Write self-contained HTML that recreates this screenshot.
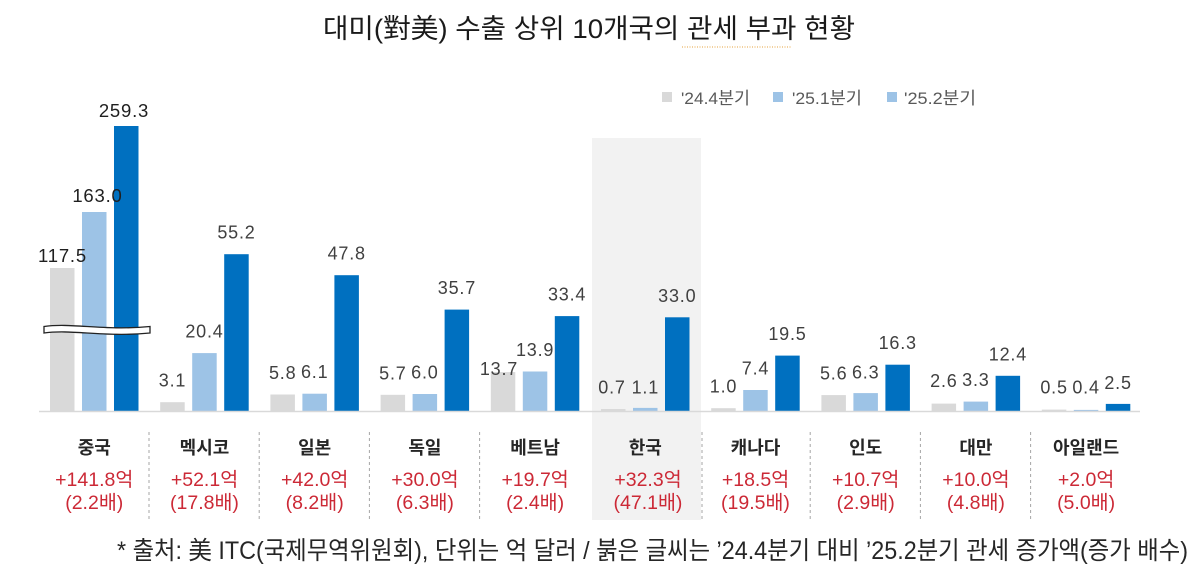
<!DOCTYPE html>
<html>
<head>
<meta charset="utf-8">
<style>
  html,body{margin:0;padding:0;background:#fff;}
  body{width:1200px;height:578px;overflow:hidden;}
  svg{display:block;}
  .v{font-family:"Liberation Sans","Noto Sans CJK KR",sans-serif;font-size:18px;fill:#404040;letter-spacing:0.8px;text-anchor:middle;}
  .vc{font-family:"Liberation Sans","Noto Sans CJK KR",sans-serif;font-size:18.5px;fill:#1f1f1f;letter-spacing:0.8px;text-anchor:middle;}
  .n{font-family:"Liberation Sans","Noto Sans CJK KR",sans-serif;font-size:18px;font-weight:bold;fill:#262626;text-anchor:middle;}
  .r{font-family:"Liberation Sans","Noto Sans CJK KR",sans-serif;font-size:19.5px;fill:#cc2936;text-anchor:middle;}
  .lg{font-family:"Liberation Sans","Noto Sans CJK KR",sans-serif;font-size:17px;fill:#595959;}
</style>
</head>
<body>
<svg width="1200" height="578" viewBox="0 0 1200 578" xmlns="http://www.w3.org/2000/svg">
  <rect x="0" y="0" width="1200" height="578" fill="#ffffff"/>
  <!-- Title -->
  <text x="323" y="38" textLength="532" lengthAdjust="spacingAndGlyphs" font-family="'Liberation Sans','Noto Sans CJK KR',sans-serif" font-size="27" fill="#1a1a1a">대미(對美) 수출 상위 10개국의 관세 부과 현황</text>
  <line x1="682" y1="47" x2="791" y2="47" stroke="#e6a23c" stroke-width="1" stroke-dasharray="1,1.5"/>

  <!-- Legend -->
  <rect x="662" y="92" width="10" height="10" fill="#d9d9d9"/>
  <text class="lg" x="681" y="104" textLength="69" lengthAdjust="spacingAndGlyphs">'24.4분기</text>
  <rect x="773" y="92" width="10" height="10" fill="#9dc3e6"/>
  <text class="lg" x="792" y="104" textLength="70" lengthAdjust="spacingAndGlyphs">'25.1분기</text>
  <rect x="887" y="92" width="10" height="10" fill="#9dc3e6"/>
  <text class="lg" x="904" y="104" textLength="72" lengthAdjust="spacingAndGlyphs">'25.2분기</text>

  <!-- Korea highlight band -->
  <rect x="592" y="138" width="109" height="382" fill="#f2f2f2"/>

  <!-- Separators -->
  <g stroke="#a6a6a6" stroke-width="1" stroke-dasharray="3,3">
    <line x1="149" y1="432" x2="149" y2="520"/>
    <line x1="259.2" y1="432" x2="259.2" y2="520"/>
    <line x1="369.4" y1="432" x2="369.4" y2="520"/>
    <line x1="479.6" y1="432" x2="479.6" y2="520"/>
    <line x1="702" y1="432" x2="702" y2="520"/>
    <line x1="810.2" y1="432" x2="810.2" y2="520"/>
    <line x1="920.4" y1="432" x2="920.4" y2="520"/>
    <line x1="1030.6" y1="432" x2="1030.6" y2="520"/>
  </g>

  <!-- Bars -->
  <g>
    <rect x="50" y="268" width="24.5" height="143" fill="#d9d9d9"/>
    <rect x="82" y="212" width="24.5" height="199" fill="#9dc3e6"/>
    <rect x="114" y="126" width="24.5" height="285" fill="#0070c0"/>
    <rect x="160.2" y="402.2" width="24.5" height="8.8" fill="#d9d9d9"/>
    <rect x="192.2" y="353.1" width="24.5" height="57.9" fill="#9dc3e6"/>
    <rect x="224.2" y="254.2" width="24.5" height="156.8" fill="#0070c0"/>
    <rect x="270.4" y="394.5" width="24.5" height="16.5" fill="#d9d9d9"/>
    <rect x="302.4" y="393.7" width="24.5" height="17.3" fill="#9dc3e6"/>
    <rect x="334.4" y="275.2" width="24.5" height="135.8" fill="#0070c0"/>
    <rect x="380.6" y="394.8" width="24.5" height="16.2" fill="#d9d9d9"/>
    <rect x="412.6" y="394" width="24.5" height="17" fill="#9dc3e6"/>
    <rect x="444.6" y="309.6" width="24.5" height="101.4" fill="#0070c0"/>
    <rect x="490.8" y="372.1" width="24.5" height="38.9" fill="#d9d9d9"/>
    <rect x="522.8" y="371.5" width="24.5" height="39.5" fill="#9dc3e6"/>
    <rect x="554.8" y="316.1" width="24.5" height="94.9" fill="#0070c0"/>
    <rect x="601" y="409" width="24.5" height="2" fill="#d9d9d9"/>
    <rect x="633" y="407.9" width="24.5" height="3.1" fill="#9dc3e6"/>
    <rect x="665" y="317.3" width="24.5" height="93.7" fill="#0070c0"/>
    <rect x="711.2" y="408.2" width="24.5" height="2.8" fill="#d9d9d9"/>
    <rect x="743.2" y="390" width="24.5" height="21" fill="#9dc3e6"/>
    <rect x="775.2" y="355.6" width="24.5" height="55.4" fill="#0070c0"/>
    <rect x="821.4" y="395.1" width="24.5" height="15.9" fill="#d9d9d9"/>
    <rect x="853.4" y="393.1" width="24.5" height="17.9" fill="#9dc3e6"/>
    <rect x="885.4" y="364.7" width="24.5" height="46.3" fill="#0070c0"/>
    <rect x="931.6" y="403.6" width="24.5" height="7.4" fill="#d9d9d9"/>
    <rect x="963.6" y="401.6" width="24.5" height="9.4" fill="#9dc3e6"/>
    <rect x="995.6" y="375.8" width="24.5" height="35.2" fill="#0070c0"/>
    <rect x="1041.8" y="409.6" width="24.5" height="1.4" fill="#d9d9d9"/>
    <rect x="1073.8" y="409.9" width="24.5" height="1.1" fill="#9dc3e6"/>
    <rect x="1105.8" y="403.9" width="24.5" height="7.1" fill="#0070c0"/>
  </g>

  <!-- Baseline -->
  <line x1="39" y1="411.5" x2="1140" y2="411.5" stroke="#d9d9d9" stroke-width="1.5"/>

  <!-- Break marker -->
  <path d="M44,326.5 C72,322.5 104,331 150,326.5 L150,333 C104,337.5 72,329 44,333 Z" fill="#ffffff" stroke="#222222" stroke-width="1.3"/>

  <!-- Value labels -->
  <text class="vc" x="62.5" y="262">117.5</text>
  <text class="vc" x="97.5" y="202">163.0</text>
  <text class="vc" x="124" y="117">259.3</text>

  <text class="v" x="172.5" y="386.7">3.1</text>
  <text class="v" x="204.5" y="337.6">20.4</text>
  <text class="v" x="236.5" y="238.7">55.2</text>

  <text class="v" x="282.7" y="379">5.8</text>
  <text class="v" x="314.7" y="378.2">6.1</text>
  <text class="v" x="346.7" y="259.7">47.8</text>

  <text class="v" x="392.9" y="379.3">5.7</text>
  <text class="v" x="424.9" y="378.5">6.0</text>
  <text class="v" x="456.9" y="294.1">35.7</text>

  <text class="v" x="499" y="375">13.7</text>
  <text class="v" x="535.1" y="356">13.9</text>
  <text class="v" x="567.1" y="300.6">33.4</text>

  <text class="v" x="612" y="393.5">0.7</text>
  <text class="v" x="645.3" y="393.5">1.1</text>
  <text class="v" x="677.3" y="301.8">33.0</text>

  <text class="v" x="723.5" y="392.7">1.0</text>
  <text class="v" x="755.5" y="374.5">7.4</text>
  <text class="v" x="787.5" y="340.1">19.5</text>

  <text class="v" x="833.7" y="379.6">5.6</text>
  <text class="v" x="865.7" y="378.6">6.3</text>
  <text class="v" x="897.7" y="349.2">16.3</text>

  <text class="v" x="943.9" y="387.1">2.6</text>
  <text class="v" x="975.9" y="386.1">3.3</text>
  <text class="v" x="1007.9" y="360.3">12.4</text>

  <text class="v" x="1054.1" y="393.6">0.5</text>
  <text class="v" x="1086.1" y="393.6">0.4</text>
  <text class="v" x="1118.1" y="389">2.5</text>

  <!-- Country names -->
  <text class="n" x="94.25" y="454">중국</text>
  <text class="n" x="204.5" y="454">멕시코</text>
  <text class="n" x="314.7" y="454">일본</text>
  <text class="n" x="424.9" y="454">독일</text>
  <text class="n" x="535.1" y="454">베트남</text>
  <text class="n" x="645.3" y="454">한국</text>
  <text class="n" x="755.5" y="454">캐나다</text>
  <text class="n" x="865.7" y="454">인도</text>
  <text class="n" x="975.9" y="454">대만</text>
  <text class="n" x="1086.1" y="454">아일랜드</text>

  <!-- Red increase text -->
  <text class="r" x="94.25" y="486">+141.8억</text>
  <text class="r" x="94.25" y="509">(2.2배)</text>
  <text class="r" x="204.5" y="486">+52.1억</text>
  <text class="r" x="204.5" y="509">(17.8배)</text>
  <text class="r" x="314.7" y="486">+42.0억</text>
  <text class="r" x="314.7" y="509">(8.2배)</text>
  <text class="r" x="424.9" y="486">+30.0억</text>
  <text class="r" x="424.9" y="509">(6.3배)</text>
  <text class="r" x="535.1" y="486">+19.7억</text>
  <text class="r" x="535.1" y="509">(2.4배)</text>
  <text class="r" x="648" y="486">+32.3억</text>
  <text class="r" x="648" y="509">(47.1배)</text>
  <text class="r" x="755.5" y="486">+18.5억</text>
  <text class="r" x="755.5" y="509">(19.5배)</text>
  <text class="r" x="865.7" y="486">+10.7억</text>
  <text class="r" x="865.7" y="509">(2.9배)</text>
  <text class="r" x="975.9" y="486">+10.0억</text>
  <text class="r" x="975.9" y="509">(4.8배)</text>
  <text class="r" x="1086.1" y="486">+2.0억</text>
  <text class="r" x="1086.1" y="509">(5.0배)</text>

  <!-- Footnote -->
  <text x="117" y="559" textLength="1071" lengthAdjust="spacingAndGlyphs" font-family="'Liberation Sans','Noto Sans CJK KR',sans-serif" font-size="25" fill="#262626">* 출처: 美 ITC(국제무역위원회), 단위는 억 달러 / 붉은 글씨는 ’24.4분기 대비 ’25.2분기 관세 증가액(증가 배수)</text>
</svg>
</body>
</html>
